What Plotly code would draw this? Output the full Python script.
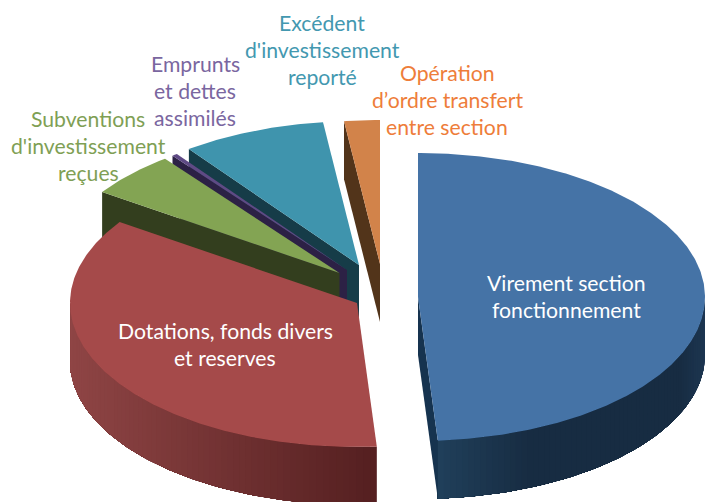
import numpy as np
import plotly.graph_objects as go

# ---- chart data (share of the total, in %) ----
categories = ["Virement section fonctionnement", "Dotations, fonds divers et reserves",
              "Subventions d'investissement reçues", "Emprunts et dettes assimilés",
              "Excédent d'investissement reporté", "Opération d’ordre transfert entre section"]
values = [48.9, 35.6, 5.1, 0.3, 8.1, 2.0]

# ---- styling ----
top_colors = ["#4573a6", "#a54a4a", "#83a453", "#5f4a85", "#3f94ad", "#d2834a"]
cut_colors = ["#16334f", "#4f2020", "#333e1e", "#2c2145", "#163c48", "#52341a"]
label_colors = ["#ffffff", "#ffffff", "#7f9f55", "#7a66a0", "#4398b0", "#ee7d3a"]
# shading of the outer wall: (page x, colour) stops
wall_stops = {0: [(439, "#203f5a"), (530, "#172c42"), (680, "#172c42"), (705, "#1d3651")],
              1: [(70, "#8f4545"), (377, "#541f20")]}
FONT = "Lato"
FONT_SIZE = 21.2

# ---- layout of the exploded pie, in page pixels ----
RX, RY, DEPTH = 287, 144, 58
centres = [(418, 297), (357, 303), (339.5, 273), (347, 270), (359, 265), (380, 264)]
draw_order = [5, 4, 3, 2, 1, 0]
label_lines = [["Virement section", "fonctionnement"], ["Dotations, fonds divers", "et reserves"],
               ["Subventions", "d'investissement", "reçues"], ["Emprunts", "et dettes", "assimilés"],
               ["Excédent", "d'investissement", "reporté"], ["Opération", "d’ordre transfert", "entre section"]]
label_pos = [(566, 296), (225, 344), (88, 146), (195, 91), (322, 50), (447, 100)]
LINE_STEP = 27


def rim(cx, cy, t):
    t = np.radians(t)
    return cx + RX * np.sin(t), cy - RY * np.cos(t)


def rgb(h):
    return np.array([int(h[i:i + 2], 16) for i in (1, 3, 5)], float)


def shade(stops, x):
    xs = [s[0] for s in stops]
    cols = np.array([rgb(s[1]) for s in stops])
    return "#%02x%02x%02x" % tuple(int(round(np.interp(x, xs, cols[:, k]))) for k in range(3))


fig = go.Figure()


def poly(xs, ys, color, name):
    fig.add_trace(go.Scatter(x=list(xs), y=list(ys), mode="lines", fill="toself", fillcolor=color,
                             line=dict(width=0), hoverinfo="text", text=name, showlegend=False))


edges = 360 * np.cumsum([0] + values) / sum(values)
for i in draw_order:
    t0, t1 = edges[i], edges[i + 1]
    cx, cy = centres[i]
    name = categories[i]
    # cut faces
    for t, vis in ((t0, np.sin(np.radians(t0)) < -1e-6), (t1, np.sin(np.radians(t1)) > 1e-6)):
        if vis:
            x, y = rim(cx, cy, t)
            poly([cx, cx, x, x, cx], [cy, cy + DEPTH, y + DEPTH, y, cy], cut_colors[i], name)
    # outer wall: overlapping strips, painted in order, for the shading
    a, b = max(t0, 90), min(t1, 270)
    if b > a:
        ts = np.linspace(a, b, 71)
        for k in range(70):
            seg = np.linspace(ts[k], b, max(int(b - ts[k]), 1) + 1)
            x, y = rim(cx, cy, seg)
            xm = rim(cx, cy, (ts[k] + ts[k + 1]) / 2)[0]
            poly([*x, *x[::-1], x[0]], [*y, *(y[::-1] + DEPTH), y[0]], shade(wall_stops[i], xm), name)
    # top face
    ts = np.linspace(t0, t1, max(int(t1 - t0) * 2, 2) + 1)
    xs, ys = rim(cx, cy, ts)
    poly([cx, *xs, cx], [cy, *ys, cy], top_colors[i], name)

annotations = []
for lines, (lx, ly), col in zip(label_lines, label_pos, label_colors):
    for k, line in enumerate(lines):
        annotations.append(dict(x=lx, y=ly + (k - (len(lines) - 1) / 2) * LINE_STEP, text=line, showarrow=False,
                                xref="x", yref="y", xanchor="center", yanchor="middle",
                                font=dict(family=FONT, size=FONT_SIZE, color=col)))

fig.update_layout(width=708, height=502, margin=dict(l=0, r=0, t=0, b=0), paper_bgcolor="white",
                  plot_bgcolor="white", autosize=False, annotations=annotations,
                  xaxis=dict(range=[0, 708], visible=False, fixedrange=True),
                  yaxis=dict(range=[502, 0], visible=False, fixedrange=True))
fig.write_html("out.html", config={"displayModeBar": False},
               post_script="document.body.style.margin='0';document.body.style.overflow='hidden';")
